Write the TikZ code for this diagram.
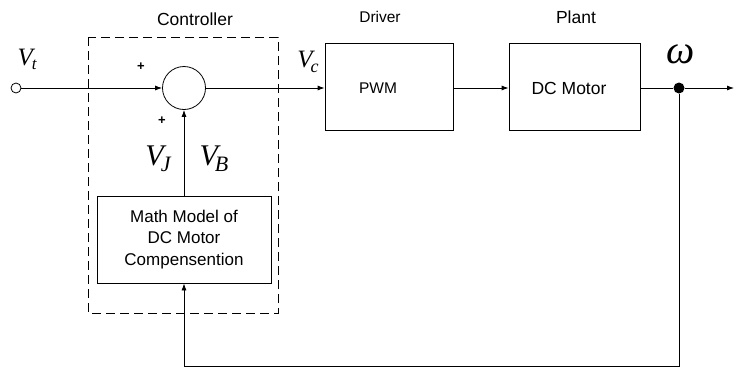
\documentclass[tikz,border=0pt]{standalone}
\usepackage{fontspec}
\setmainfont{Liberation Serif}
\setsansfont{Liberation Sans}
\usetikzlibrary{arrows.meta}
\begin{document}
\begin{tikzpicture}[x=1pt,y=-1pt,
  line width=0.8pt,
  arr/.style={-{Latex[length=7pt,width=5pt]}},
  blk/.style={draw,rectangle,inner sep=0pt,font=\sffamily\fontsize{17}{21.5}\selectfont,align=center},
  lbl/.style={font=\sffamily\fontsize{17.5}{20}\selectfont},
  mathlbl/.style={font=\itshape\fontsize{25}{28}\selectfont,inner sep=0pt},
  bigmath/.style={font=\itshape\fontsize{30}{32}\selectfont,inner sep=0pt},
  plus/.style={font=\sffamily\bfseries\fontsize{13}{14}\selectfont,inner sep=0pt}]
\useasboundingbox (0,0) rectangle (734,370);
% controller dashed frame
\draw[dash pattern=on 9pt off 5pt, line width=1pt] (88,37) rectangle (278,313);
% nodes
\node[draw,circle,minimum size=10pt,inner sep=0pt] (in) at (16,88) {};
\node[draw,circle,minimum size=43pt,inner sep=0pt] (sum) at (184,88) {};
\node[blk,minimum width=174pt,minimum height=87pt] (math) at (184,239.5) {Math Model of\\DC Motor\\Compensention};
\node[draw,rectangle,minimum width=128pt,minimum height=87pt,inner sep=0pt] (pwm) at (389,87) {};
\node[font=\sffamily\fontsize{15.5}{18}\selectfont] (pwmt) at (378,88) {PWM};
\node[draw,rectangle,minimum width=131pt,minimum height=87pt,inner sep=0pt] (motor) at (574.5,87) {};
\node[font=\sffamily\fontsize{17.5}{20}\selectfont] (motort) at (569,88) {DC Motor};
\node[fill,circle,minimum size=11pt,inner sep=0pt] (dot) at (679,88) {};
\coordinate (out) at (734,88);
\coordinate (b1) at (679,366);
\coordinate (b2) at (184,366);
% connectors
\draw[arr] (in) -- (sum);
\draw[arr] (sum) -- (pwm.west |- sum);
\draw[arr] (pwm.east |- sum) -- (motor.west |- sum);
\draw (motor.east |- dot) -- (dot);
\draw[arr] (dot) -- (out);
\draw[arr] (math) -- (sum);
\draw[arr] (dot) -- (b1) -- (b2) -- (math.south);
% labels
\node[lbl] (tctrl) at (195,19) {Controller};
\node[lbl,font=\sffamily\fontsize{15.5}{18}\selectfont] (tdrv) at (380,17) {Driver};
\node[lbl] (tplant) at (576,17) {Plant};
\node[mathlbl] (vt) at (27,59) {V\kern-1pt\raisebox{-4pt}{\fontsize{17}{17}\selectfont t}};
\node[mathlbl] (vc) at (308,62) {V\kern-2pt\raisebox{-5pt}{\fontsize{18}{18}\selectfont c}};
\node[bigmath] (vj) at (158,159) {V\kern-3pt\raisebox{-6pt}{\fontsize{22}{22}\selectfont J}};
\node[bigmath] (vb) at (214,159) {V\kern-3pt\raisebox{-6pt}{\fontsize{22}{22}\selectfont B}};
\node[font=\itshape\fontsize{40}{40}\selectfont,inner sep=0pt] (om) at (681,54) {ω};
\node[plus] (p1) at (141,67) {+};
\node[plus] (p2) at (162,121) {+};
\end{tikzpicture}
\end{document}
